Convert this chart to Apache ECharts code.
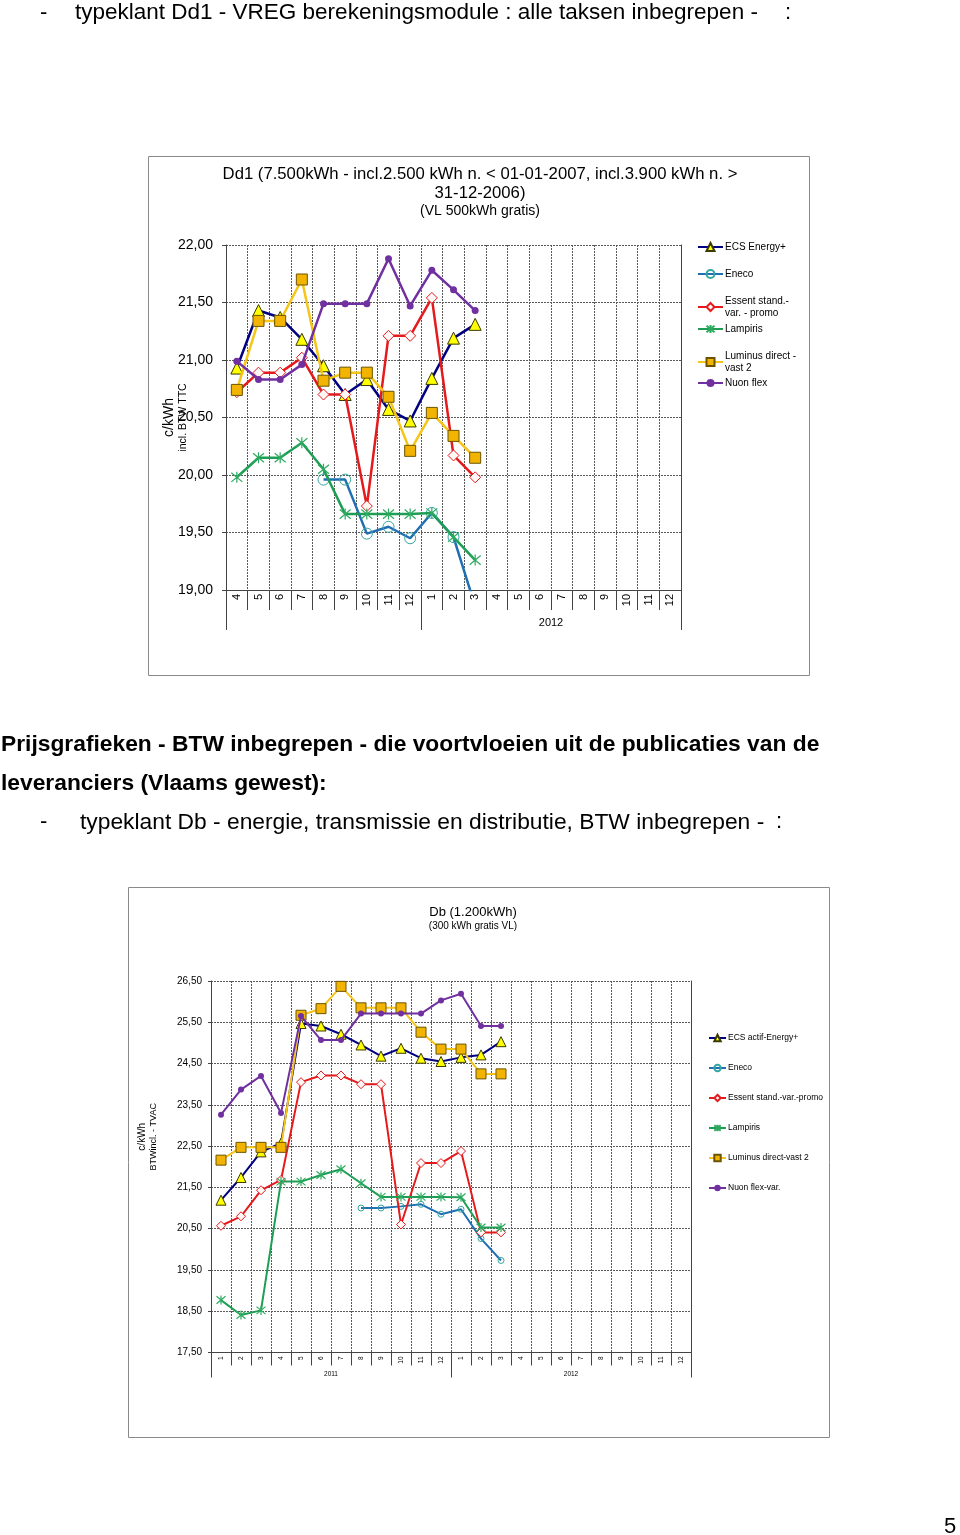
<!DOCTYPE html>
<html>
<head>
<meta charset="utf-8">
<script src="https://cdn.jsdelivr.net/npm/echarts@6/dist/echarts.min.js"></script>
<style>
  html, body { margin: 0; padding: 0; background: #fff; }
  #page { position: relative; width: 960px; height: 1535px; overflow: hidden; }
  #chart { position: absolute; left: 0; top: 0; width: 960px; height: 1535px; }
  .t { position: absolute; font-family: 'Liberation Sans', Arial, sans-serif; font-size: 22px; line-height: 24px; color: #000; white-space: nowrap; z-index: 2; }
  .b { font-weight: bold; font-size: 22.8px; }
  .m { font-size: 22.8px; }
  .h1 { font-size: 22.5px; }
</style>
</head>
<body>
<div id="page">
  <div id="chart"></div>
  <div class="t" style="top:0px;left:40px">-</div>
  <div class="t h1" style="top:0px;left:75px">typeklant Dd1 - VREG berekeningsmodule : alle taksen inbegrepen -</div>
  <div class="t" style="top:0px;left:785px">:</div>
  <div class="t b" style="top:731px;left:1px">Prijsgrafieken - BTW inbegrepen - die voortvloeien uit de publicaties van de</div>
  <div class="t b" style="top:770px;left:1px">leveranciers (Vlaams gewest):</div>
  <div class="t" style="top:809px;left:40px">-</div>
  <div class="t m" style="top:809px;left:80px">typeklant Db - energie, transmissie en distributie, BTW inbegrepen -</div>
  <div class="t" style="top:809px;left:776px">:</div>
  <div class="t" style="top:1514px;left:944px">5</div>
</div>
<script>
// ---------------- DATA: top chart (Dd1) ----------------
const topMonths = ['4','5','6','7','8','9','10','11','12','1','2','3','4','5','6','7','8','9','10','11','12'];
const topYearLabels = ['', '2012'];
const topEcs      = [20.93, 21.43, 21.37, 21.18, 20.95, 20.70, 20.83, 20.57, 20.47, 20.84, 21.19, 21.31];
const topEneco    = [null, null, null, null, 19.96, 19.96, 19.49, 19.55, 19.45, 19.67, 19.46, 18.86];
const topEssent   = [20.72, 20.89, 20.89, 21.02, 20.70, 20.70, 19.73, 21.21, 21.21, 21.54, 20.17, 19.98];
const topLampiris = [19.98, 20.15, 20.15, 20.28, 20.05, 19.66, 19.66, 19.66, 19.66, 19.67, 19.46, 19.26];
const topLuminus  = [20.74, 21.34, 21.34, 21.70, 20.82, 20.89, 20.89, 20.68, 20.21, 20.54, 20.34, 20.15];
const topNuon     = [20.99, 20.83, 20.83, 20.96, 21.49, 21.49, 21.49, 21.88, 21.47, 21.78, 21.61, 21.43];
const topNames = ['ECS Energy+', 'Eneco', 'Essent stand.-var. - promo', 'Lampiris', 'Luminus direct - vast 2', 'Nuon flex'];
const topLegendText = ['ECS Energy+', 'Eneco', 'Essent stand.-\nvar. - promo', 'Lampiris', 'Luminus direct -\nvast 2', 'Nuon flex'];

// ---------------- DATA: bottom chart (Db) ----------------
const botMonths = ['1','2','3','4','5','6','7','8','9','10','11','12','1','2','3','4','5','6','7','8','9','10','11','12'];
const botYearLabels = ['2011', '2012'];
const botEcs      = [21.19, 21.74, 22.36, 22.57, 25.47, 25.41, 25.21, 24.95, 24.68, 24.87, 24.63, 24.55, 24.65, 24.71, 25.03];
const botEneco    = [null, null, null, null, null, null, null, 21.00, 21.00, 21.04, 21.09, 20.85, 20.97, 20.26, 19.73];
const botEssent   = [20.57, 20.80, 21.43, 21.68, 24.05, 24.21, 24.21, 24.00, 24.00, 20.60, 22.09, 22.09, 22.38, 20.41, 20.41];
const botLampiris = [18.77, 18.41, 18.52, 21.64, 21.64, 21.80, 21.94, 21.60, 21.27, 21.27, 21.27, 21.27, 21.26, 20.53, 20.53];
const botLuminus  = [22.16, 22.47, 22.47, 22.47, 25.67, 25.83, 26.37, 25.85, 25.85, 25.85, 25.26, 24.85, 24.85, 24.25, 24.25];
const botNuon     = [23.26, 23.87, 24.20, 23.30, 25.65, 25.07, 25.07, 25.71, 25.71, 25.71, 25.71, 26.03, 26.19, 25.41, 25.41];
const botNames = ['ECS actif-Energy+', 'Eneco', 'Essent stand.-var.-promo', 'Lampiris', 'Luminus direct-vast 2', 'Nuon flex-var.'];

// ---------------- helpers ----------------
const FONT = 'Liberation Sans';
const fmt = v => v.toFixed(2).replace('.', ',');
const STAR = 'path://M0,0L10,10M10,0L0,10M5,-1L5,11';
const GRID_LINE = { type: [2, 1], color: '#5a5a5a', width: 1 };

const styles = [
  { line: '#000080', symbol: 'triangle', item: { color: '#FFFF00', borderColor: '#3a3a00', borderWidth: 1 } },
  { line: '#1F6FB2', symbol: 'circle',   item: { color: 'rgba(255,255,255,0)', borderColor: '#35A7A0', borderWidth: 1 } },
  { line: '#E41A1C', symbol: 'diamond',  item: { color: '#FFF6F6', borderColor: '#E41A1C', borderWidth: 1 } },
  { line: '#1E9E55', symbol: STAR,       item: { color: 'rgba(0,0,0,0)', borderColor: '#2EAA60', borderWidth: 1.2 } },
  { line: '#F5C518', symbol: 'rect',     item: { color: '#F2B400', borderColor: '#6B5400', borderWidth: 1 } },
  { line: '#7030A0', symbol: 'circle',   item: { color: '#7030A0', borderWidth: 0 } }
];

function yearSegments(months) {
  const b = [0];
  for (let i = 1; i < months.length; i++) if (+months[i] < +months[i - 1]) b.push(i);
  b.push(months.length);
  return b;
}

function catAxis(gridIndex, months, tickLen, fontSize, margin) {
  return {
    type: 'category', gridIndex, position: 'bottom', data: months, boundaryGap: true,
    axisLine: { show: true, onZero: false, lineStyle: { color: '#444', width: 1 } },
    axisTick: { show: true, interval: 0, length: tickLen, lineStyle: { color: '#444' } },
    axisLabel: { interval: 0, rotate: 90, fontSize, margin, color: '#000', fontFamily: FONT },
    splitLine: { show: true, interval: 0, lineStyle: GRID_LINE }
  };
}

function yearAxis(gridIndex, months, labels, tickLen, margin, fontSize) {
  const b = yearSegments(months);
  const mids = [], midLabels = [];
  for (let k = 0; k < b.length - 1; k++) {
    if (labels[k]) { mids.push((b[k] + b[k + 1]) / 2); midLabels.push(labels[k]); }
  }
  return {
    type: 'value', gridIndex, position: 'bottom', min: 0, max: months.length,
    axisLine: { show: false, onZero: false },
    axisTick: { show: true, customValues: b, length: tickLen, lineStyle: { color: '#444' } },
    axisLabel: {
      show: true, customValues: mids, margin, fontSize, color: '#000', fontFamily: FONT,
      formatter: v => { const i = mids.findIndex(m => Math.abs(m - v) < 1e-6); return i >= 0 ? midLabels[i] : ''; }
    },
    splitLine: { show: false }
  };
}

function borderAxis(gridIndex, min, max) {
  return {
    type: 'value', gridIndex, position: 'right', min, max,
    axisLine: { show: true, onZero: false, lineStyle: { color: '#444' } },
    axisTick: { show: false }, axisLabel: { show: false }, splitLine: { show: false }
  };
}

function mkSeries(names, arrays, xi, yi, width, sizes) {
  return arrays.map((d, i) => ({
    type: 'line', name: names[i], xAxisIndex: xi, yAxisIndex: yi, data: d,
    symbol: styles[i].symbol, symbolSize: sizes[i], showAllSymbol: true,
    lineStyle: { color: styles[i].line, width },
    itemStyle: Object.assign({}, styles[i].item),
    emphasis: { disabled: true }, clip: true, z: 3 + i
  }));
}

const topSeries = mkSeries(topNames, [topEcs, topEneco, topEssent, topLampiris, topLuminus, topNuon], 0, 0, 2.5, [12, 11, 11, 11, 11, 7]);
const botSeries = mkSeries(botNames, [botEcs, botEneco, botEssent, botLampiris, botLuminus, botNuon], 2, 2, 2, [10, 6, 9, 9, 10, 6]);

// top legend: one component per entry (Excel-style fixed pitch)
const topLegendTops = [241, 268, 295, 323, 350, 377];
const topLegends = topNames.map((n, i) => ({
  left: 697, top: topLegendTops[i], orient: 'vertical', padding: 0, itemGap: 0,
  itemWidth: 25, itemHeight: 10, data: [n],
  formatter: name => topLegendText[topNames.indexOf(name)],
  textStyle: { fontSize: 10, lineHeight: 12, color: '#000', fontFamily: FONT, padding: [0, 0, 0, -3] },
  selectedMode: false
}));

const option = {
  animation: false,
  backgroundColor: '#fff',
  textStyle: { fontFamily: FONT },
  title: [
    {
      text: 'Dd1 (7.500kWh - incl.2.500 kWh n. < 01-01-2007, incl.3.900 kWh n. >\n31-12-2006)',
      subtext: '(VL 500kWh gratis)',
      left: 'center', top: 165, padding: 0, itemGap: 0,
      textStyle: { fontSize: 16.7, fontWeight: 'normal', lineHeight: 19, color: '#000', fontFamily: FONT },
      subtextStyle: { fontSize: 14, lineHeight: 16, color: '#000', fontFamily: FONT }
    },
    {
      text: 'Db (1.200kWh)', subtext: '(300 kWh gratis VL)',
      left: 473, textAlign: 'center', top: 905, padding: 0, itemGap: 1,
      textStyle: { fontSize: 13, fontWeight: 'normal', lineHeight: 15, color: '#000', fontFamily: FONT },
      subtextStyle: { fontSize: 10, lineHeight: 11, color: '#000', fontFamily: FONT }
    }
  ],
  legend: topLegends.concat([{
    left: 708, top: 1033, orient: 'vertical', padding: 0, itemGap: 20,
    itemWidth: 17, itemHeight: 8, data: botNames, selectedMode: false,
    textStyle: { fontSize: 8.5, lineHeight: 10, color: '#000', fontFamily: FONT, padding: [0, 0, 0, -3] }
  }]),
  grid: [
    { left: 226, top: 245, width: 455, height: 345, containLabel: false },
    { left: 211, top: 981, width: 480, height: 371.5, containLabel: false }
  ],
  xAxis: [
    catAxis(0, topMonths, 20, 11, 4),
    yearAxis(0, topMonths, topYearLabels, 40, 27, 11),
    catAxis(1, botMonths, 13, 6.5, 4),
    yearAxis(1, botMonths, botYearLabels, 25, 18, 6.5)
  ],
  yAxis: [
    {
      type: 'value', gridIndex: 0, min: 19, max: 22, interval: 0.5,
      axisLine: { show: true, onZero: false, lineStyle: { color: '#444' } },
      axisTick: { show: true, length: 4, lineStyle: { color: '#444' } },
      axisLabel: { formatter: fmt, fontSize: 14, margin: 13, color: '#000', fontFamily: FONT },
      splitLine: { show: true, lineStyle: GRID_LINE },
      name: '{a|c/kWh}\n{b|incl. BTW TTC}', nameLocation: 'middle', nameRotate: 90, nameGap: 36,
      nameMoveOverlap: false,
      nameTextStyle: { rich: { a: { fontSize: 14, lineHeight: 15, color: '#000', fontFamily: FONT }, b: { fontSize: 10.5, lineHeight: 13, color: '#000', fontFamily: FONT } } }
    },
    borderAxis(0, 19, 22),
    {
      type: 'value', gridIndex: 1, min: 17.5, max: 26.5, interval: 1,
      axisLine: { show: true, onZero: false, lineStyle: { color: '#444' } },
      axisTick: { show: true, length: 3, lineStyle: { color: '#444' } },
      axisLabel: { formatter: fmt, fontSize: 10, margin: 9, color: '#000', fontFamily: FONT },
      splitLine: { show: true, lineStyle: GRID_LINE },
      name: '{a|c/kWh}\n{b|BTWincl. - TVAC}', nameLocation: 'middle', nameRotate: 90, nameGap: 52,
      nameMoveOverlap: false,
      nameTextStyle: { padding: [0, 0, 0, 60], rich: { a: { fontSize: 10, lineHeight: 11, color: '#000', fontFamily: FONT }, b: { fontSize: 9, lineHeight: 11, color: '#000', fontFamily: FONT } } }
    },
    borderAxis(1, 17.5, 26.5)
  ],
  graphic: [
    { type: 'rect', silent: true, z: -10, shape: { x: 148.5, y: 156.5, width: 661, height: 519 }, style: { fill: 'none', stroke: '#8a8a8a', lineWidth: 1 } },
    { type: 'rect', silent: true, z: -10, shape: { x: 128.5, y: 887.5, width: 701, height: 550 }, style: { fill: 'none', stroke: '#8a8a8a', lineWidth: 1 } }
  ],
  series: topSeries.concat(botSeries)
};

const chart = echarts.init(document.getElementById('chart'), null, { renderer: 'canvas' });
chart.setOption(option);
</script>
</body>
</html>
